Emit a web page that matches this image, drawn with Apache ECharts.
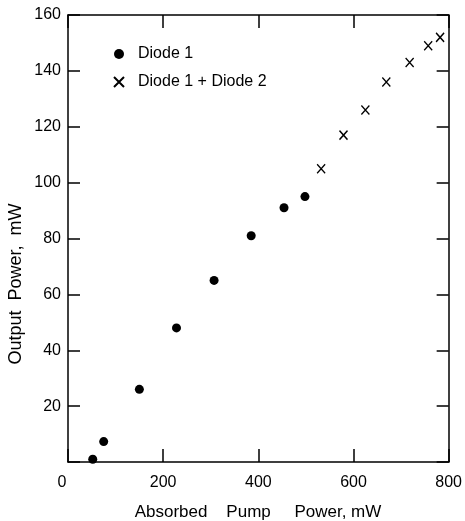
<!DOCTYPE html>
<html>
<head>
<meta charset="utf-8">
<script src="https://cdn.jsdelivr.net/npm/echarts@6/dist/echarts.min.js"></script>
<style>
  html, body { margin: 0; padding: 0; background: #fff; }
  #chart { width: 465px; height: 521px; }
</style>
</head>
<body>
<div id="chart"></div>
<script>
// Absorbed pump power (mW) and output power (mW)
var diode1Pump = [52, 75, 150, 228, 307, 385, 454, 498];
var diode1Out  = [1, 7.3, 26, 48, 65, 81, 91, 95];
var bothPump   = [532, 579, 625, 669, 718, 757, 782];
var bothOut    = [105, 117, 126, 136, 143, 149, 152];

var xTicks = [0, 200, 400, 600, 800];
var yTicks = [0, 20, 40, 60, 80, 100, 120, 140, 160];

var xTitle = 'Absorbed    Pump     Power, mW';
var yTitle = 'Output  Power,  mW';

function pairs(xs, ys) {
  return xs.map(function (x, i) { return [x, ys[i]]; });
}

var FONT = 'Liberation Sans';
var ink = '#000';

var chart = echarts.init(document.getElementById('chart'));

var axisLine = { show: true, onZero: false, lineStyle: { color: ink, width: 1.5 } };
var tickStyle = { show: true, inside: true, lineStyle: { color: ink, width: 1.5 } };

chart.setOption({
  animation: false,
  backgroundColor: '#fff',
  textStyle: { fontFamily: FONT, color: ink },
  grid: { left: 68, right: 15, top: 15, bottom: 59 },
  legend: {
    orient: 'vertical',
    left: 108,
    top: 41,
    itemGap: 12,
    itemWidth: 12,
    itemHeight: 10,
    textStyle: { fontFamily: FONT, fontSize: 16, color: ink, padding: [0, 0, 0, 8] },
    data: ['Diode 1', 'Diode 1 + Diode 2']
  },
  graphic: [{
    type: 'text',
    x: 258,
    y: 512,
    style: {
      text: xTitle, font: '17px "Liberation Sans"', fill: ink,
      align: 'center', verticalAlign: 'middle'
    }
  }, {
    type: 'text',
    x: 16,
    y: 284,
    rotation: Math.PI / 2,
    style: {
      text: yTitle, font: '18px "Liberation Sans"', fill: ink,
      align: 'center', verticalAlign: 'middle'
    }
  }],
  xAxis: [{
    type: 'value',
    min: xTicks[0],
    max: xTicks[xTicks.length - 1],
    interval: 200,
    position: 'bottom',
    axisLine: axisLine,
    axisTick: Object.assign({ length: 13 }, tickStyle),
    splitLine: { show: false },
    axisLabel: {
      fontSize: 16, color: ink, margin: 13,
      // the origin label sits a little left of the axis corner
      formatter: function (v) { return v === 0 ? '{o|0}' : String(v); },
      rich: { o: { fontSize: 16, color: ink, padding: [0, 12, 0, 0] } }
    }
  }, {
    type: 'value',
    min: xTicks[0],
    max: xTicks[xTicks.length - 1],
    interval: 200,
    position: 'top',
    axisLine: axisLine,
    axisTick: Object.assign({ length: 13 }, tickStyle),
    splitLine: { show: false },
    axisLabel: { show: false }
  }],
  yAxis: [{
    type: 'value',
    min: yTicks[0],
    max: yTicks[yTicks.length - 1],
    interval: 20,
    position: 'left',
    axisLine: axisLine,
    axisTick: Object.assign({ length: 12 }, tickStyle),
    splitLine: { show: false },
    axisLabel: {
      fontSize: 16, color: ink, margin: 7,
      formatter: function (v) { return v === 0 ? '' : String(v); }
    }
  }, {
    type: 'value',
    min: yTicks[0],
    max: yTicks[yTicks.length - 1],
    interval: 20,
    position: 'right',
    axisLine: axisLine,
    axisTick: Object.assign({ length: 12 }, tickStyle),
    splitLine: { show: false },
    axisLabel: { show: false }
  }],
  series: [{
    name: 'Diode 1',
    type: 'scatter',
    symbol: 'circle',
    symbolSize: 9,
    itemStyle: { color: ink, opacity: 1 },
    data: pairs(diode1Pump, diode1Out)
  }, {
    name: 'Diode 1 + Diode 2',
    type: 'scatter',
    symbol: 'path://M0,0L10,10M10,0L0,10',
    symbolSize: [8, 9],
    itemStyle: { color: 'rgba(0,0,0,0)', borderColor: ink, borderWidth: 1.4, opacity: 1 },
    data: pairs(bothPump, bothOut)
  }]
});
</script>
</body>
</html>
